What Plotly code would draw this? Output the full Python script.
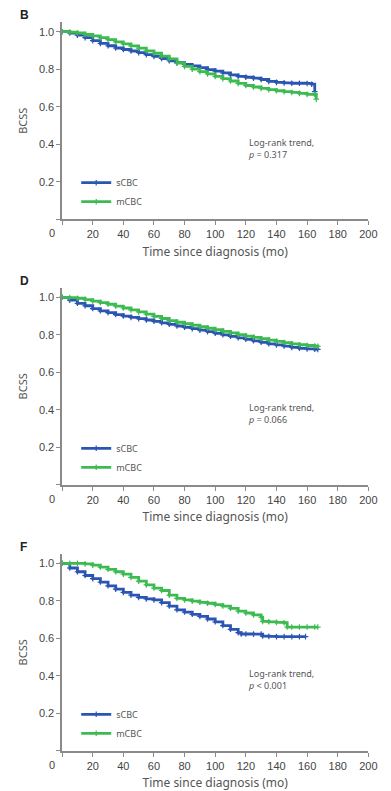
import plotly.graph_objects as go

# ---------------- data ----------------
panels = ["B", "D", "F"]
pvals = ["<i>p</i> = 0.317", "<i>p</i> = 0.066", "<i>p</i> < 0.001"]

b_s_t = [0,5,10,15,20,25,30,35,40,45,50,55,60,65,70,75,80,85,90,95,100,105,110,115,120,125,130,135,140,145,150,155,160,163,165]
b_s_v = [1.0,0.993,0.982,0.968,0.952,0.938,0.925,0.913,0.905,0.897,0.888,0.878,0.868,0.857,0.845,0.835,0.825,0.818,0.808,0.798,0.790,0.780,0.770,0.762,0.757,0.752,0.745,0.735,0.730,0.727,0.725,0.725,0.724,0.720,0.680]
b_m_t = [0,5,10,15,20,25,30,35,40,45,50,55,60,65,70,75,80,85,90,95,100,105,110,115,120,125,130,135,140,145,150,155,160,165,166]
b_m_v = [1.0,0.998,0.993,0.985,0.978,0.968,0.958,0.946,0.935,0.924,0.912,0.898,0.885,0.870,0.855,0.832,0.815,0.800,0.787,0.775,0.762,0.750,0.737,0.724,0.713,0.705,0.698,0.691,0.685,0.680,0.676,0.671,0.666,0.665,0.640]

d_s_t = [0,5,10,15,20,25,30,35,40,45,50,55,60,65,70,75,80,85,90,95,100,105,110,115,120,125,130,135,140,145,150,155,160,165,167]
d_s_v = [1.0,0.985,0.968,0.955,0.940,0.928,0.918,0.908,0.900,0.893,0.886,0.879,0.872,0.864,0.856,0.847,0.840,0.833,0.825,0.817,0.808,0.800,0.792,0.784,0.776,0.768,0.760,0.752,0.746,0.740,0.733,0.728,0.725,0.723,0.722]
d_m_t = [0,5,10,15,20,25,30,35,40,45,50,55,60,65,70,75,80,85,90,95,100,105,110,115,120,125,130,135,140,145,150,155,160,165,167]
d_m_v = [1.0,0.998,0.995,0.988,0.980,0.972,0.963,0.953,0.943,0.933,0.922,0.910,0.898,0.887,0.876,0.867,0.859,0.852,0.843,0.835,0.827,0.818,0.810,0.801,0.793,0.786,0.779,0.772,0.765,0.758,0.752,0.747,0.743,0.740,0.738]

f_s_t = [0,5,10,15,20,25,30,35,40,45,50,55,60,65,70,75,80,85,90,95,100,105,110,115,117,120,125,130,131,135,140,145,150,155,159]
f_s_v = [1.0,0.975,0.955,0.935,0.918,0.900,0.880,0.862,0.845,0.830,0.818,0.810,0.805,0.790,0.772,0.752,0.740,0.728,0.717,0.703,0.688,0.668,0.648,0.630,0.623,0.623,0.622,0.622,0.612,0.610,0.609,0.609,0.609,0.609,0.609]
f_m_t = [0,5,10,15,20,25,30,35,40,45,50,55,60,65,70,75,80,85,90,95,100,105,110,115,120,125,130,131,135,140,145,147,150,155,160,165,167]
f_m_v = [1.0,1.0,1.0,0.997,0.990,0.980,0.968,0.955,0.942,0.925,0.905,0.885,0.868,0.855,0.830,0.813,0.805,0.798,0.792,0.787,0.780,0.772,0.760,0.745,0.735,0.725,0.713,0.690,0.688,0.685,0.683,0.660,0.660,0.660,0.660,0.660,0.660]

series = [
    (b_s_t, b_s_v, b_m_t, b_m_v),
    (d_s_t, d_s_v, d_m_t, d_m_v),
    (f_s_t, f_s_v, f_m_t, f_m_v),
]

x_ticks = [20, 40, 60, 80, 100, 120, 140, 160, 180, 200]
y_ticks = [0, 0.2, 0.4, 0.6, 0.8, 1.0]
y_ticktext = ["", "0.2", "0.4", "0.6", "0.8", "1.0"]

BLUE = "#2b55b3"
GREEN = "#3dbb52"
W, H = 391, 791

# pixel geometry
y0px = [219.2, 484.8, 750.8]
unit = 187.5
x0px, x1px = 63.6, 377.0

fig = go.Figure()
layout = dict(width=W, height=H, margin=dict(l=0, r=0, t=0, b=0),
              paper_bgcolor="white", plot_bgcolor="white", showlegend=True)
annotations = []

for i, (st, sv, mt, mv) in enumerate(series):
    n = "" if i == 0 else str(i + 1)
    xa, ya = "x" + n, "y" + n
    leg = "legend" + n
    for t, v, name, col in [(st, sv, "sCBC", BLUE), (mt, mv, "mCBC", GREEN)]:
        fig.add_trace(go.Scatter(
            x=t, y=v, name=name, mode="lines+markers",
            line=dict(color=col, width=2.8, shape="hv"),
            marker=dict(symbol="cross-thin", size=4, line=dict(color=col, width=1.2)),
            xaxis=xa, yaxis=ya, legend=leg, cliponaxis=False))
    bot = 1 - y0px[i] / H
    top = 1 - (y0px[i] - 1.05 * unit) / H
    axcommon = dict(showgrid=False, zeroline=False, showline=True,
                    linecolor="#8a8a8a", linewidth=1.5, ticks="outside",
                    ticklen=4, tickwidth=1, tickcolor="#8a8a8a",
                    tickfont=dict(family="Liberation Sans, Arial", size=11, color="#444"))
    layout["xaxis" + n] = dict(axcommon, domain=[x0px / W, x1px / W], range=[0, 200],
                               tickvals=[0] + x_ticks, ticktext=[""] + [str(v) for v in x_ticks],
                               anchor=ya,
                               title=dict(text="Time since diagnosis (mo)", standoff=8,
                                          font=dict(family="Noto Sans", size=12, color="#555")))
    layout["yaxis" + n] = dict(axcommon, domain=[bot, top], range=[0, 1.05],
                               tickvals=y_ticks, ticktext=y_ticktext, anchor=xa,
                               title=dict(text="BCSS", standoff=9,
                                          font=dict(family="Noto Sans", size=11, color="#555")))
    layout[leg] = dict(x=78 / W, xanchor="left",
                       y=1 - (y0px[i] - 51) / H, yanchor="top",
                       bgcolor="rgba(0,0,0,0)", itemwidth=30, tracegroupgap=0,
                       font=dict(family="Noto Sans", size=9, color="#555"))
    annotations.append(dict(xref=xa, yref=ya, x=120, y=0.378, xanchor="left", yanchor="middle",
                            text="Log-rank trend,<br>" + pvals[i], showarrow=False, align="left",
                            font=dict(family="Noto Sans", size=9, color="#555")))
    annotations.append(dict(xref=xa, yref=ya, x=0, y=0, xshift=-10, yshift=-14,
                            xanchor="center", yanchor="middle", text="0", showarrow=False,
                            font=dict(family="Liberation Sans, Arial", size=11, color="#444")))
    annotations.append(dict(xref="paper", yref="paper", x=18 / W,
                            y=1 - (y0px[i] - unit - 16.5) / H,
                            xanchor="left", yanchor="middle", text="<b>" + panels[i] + "</b>",
                            showarrow=False,
                            font=dict(family="Liberation Sans, Arial", size=12, color="#222")))

layout["annotations"] = annotations
fig.update_layout(**layout)
fig.write_html("out.html")
